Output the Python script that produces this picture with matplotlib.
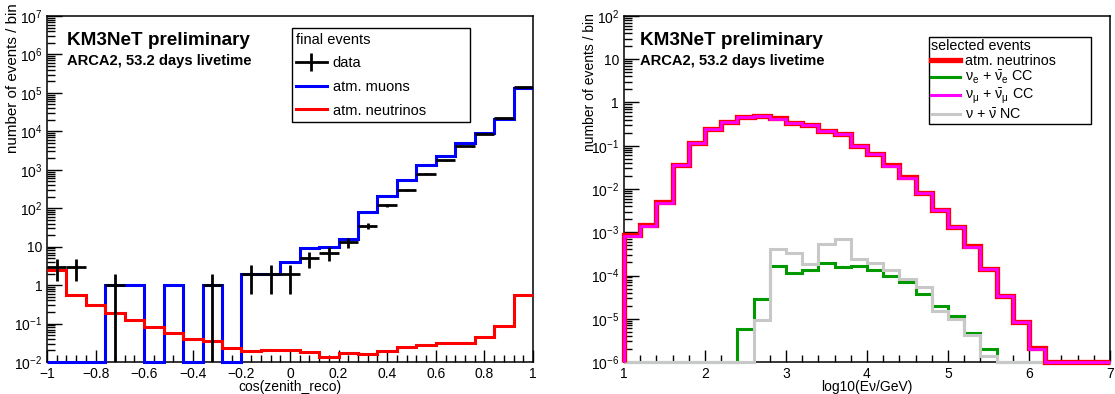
import numpy as np
import matplotlib
matplotlib.use('Agg')
from matplotlib import pyplot as plt
from matplotlib.lines import Line2D
from matplotlib.ticker import FuncFormatter, LogLocator, MultipleLocator, NullFormatter

plt.rcParams['font.family'] = ['Liberation Sans', 'DejaVu Sans']
plt.rcParams['mathtext.fontset'] = 'custom'
plt.rcParams['mathtext.rm'] = 'Liberation Sans'
plt.rcParams['mathtext.it'] = 'Liberation Sans:italic'
plt.rcParams['mathtext.bf'] = 'Liberation Sans:bold'

# zenith distribution, 25 bins in cos(zenith_reco)
cos_edges = np.linspace(-1, 1, 26)
data_counts = [3, 3, 0, 1, 0, 0, 0, 0, 1, 0, 2, 2, 2, 5, 7, 13, 35, 118,
               300, 800, 1780, 4200, 8500, 22000, 146000]
atm_muons = [0, 0, 0, 1, 1, 0, 1, 0, 1, 0, 2, 2, 4, 9, 10, 16, 78, 205,
             540, 1300, 2350, 4900, 8900, 21000, 138000]
atm_neutrinos_cos = [2.5, 0.54, 0.31, 0.19, 0.123, 0.08, 0.058, 0.040, 0.035,
                     0.023, 0.0195, 0.021, 0.020, 0.0177, 0.0133, 0.0174,
                     0.0163, 0.0195, 0.025, 0.028, 0.032, 0.032, 0.046,
                     0.085, 0.57]

# energy distribution, 30 bins in log10(E/GeV)
loge_edges = np.linspace(1, 7, 31)
nu_all = [8.5e-4, 1.45e-3, 4.9e-3, 0.036, 0.115, 0.245, 0.36, 0.46, 0.48,
          0.43, 0.34, 0.30, 0.22, 0.186, 0.10, 0.065, 0.035, 0.0186, 0.0083,
          0.0033, 1.35e-3, 4.7e-4, 1.45e-4, 3.4e-5, 8.5e-6, 2.1e-6,
          0, 0, 0, 0]
numu_cc = [8.4e-4, 1.43e-3, 4.85e-3, 0.0357, 0.114, 0.243, 0.357, 0.456,
           0.476, 0.426, 0.337, 0.297, 0.218, 0.184, 0.099, 0.064, 0.0346,
           0.0184, 0.0082, 0.00326, 1.33e-3, 4.6e-4, 1.42e-4, 3.3e-5,
           8.3e-6, 2.0e-6, 0, 0, 0, 0]
nue_cc = [0, 0, 0, 0, 0, 0, 0, 5.7e-6, 2.9e-5, 1.67e-4, 1.17e-4, 1.33e-4,
          1.92e-4, 1.6e-4, 1.67e-4, 1.33e-4, 9.8e-5, 6.9e-5, 3.8e-5, 2.0e-5,
          1.16e-5, 4.8e-6, 2.0e-6, 0, 0, 0, 0, 0, 0, 0]
nu_nc = [0, 0, 0, 0, 0, 0, 0, 0, 9.4e-6, 4.1e-4, 3.4e-4, 1.8e-4, 5.3e-4,
         6.9e-4, 2.4e-4, 1.9e-4, 1.33e-4, 8.5e-5, 5.5e-5, 1.5e-5, 9.7e-6,
         4.2e-6, 1.4e-6, 0, 0, 0, 0, 0, 0, 0]


def log_label(v, pos):
    if np.isclose(v, 1):
        return '1'
    if np.isclose(v, 10):
        return '10'
    return r'$\mathregular{10^{%d}}$' % round(np.log10(v))


def lin_label(v, pos):
    return ('%g' % (round(v, 6) + 0.0)).replace('-', '\u2212')


def style_axes(ax, ymin, ymax, ylabel_size, ylabel_top):
    ax.set_yscale('log')
    ax.set_ylim(ymin, ymax)
    ax.yaxis.set_major_locator(LogLocator(base=10, numticks=20))
    ax.yaxis.set_minor_locator(LogLocator(base=10, subs=np.arange(2, 10), numticks=20))
    ax.yaxis.set_major_formatter(FuncFormatter(log_label))
    ax.yaxis.set_minor_formatter(NullFormatter())
    ax.xaxis.set_major_formatter(FuncFormatter(lin_label))
    ax.tick_params(which='both', direction='in', top=False, right=False,
                   labelsize=10, width=1, colors='black')
    ax.tick_params(axis='y', which='major', length=11)
    ax.tick_params(axis='y', which='minor', length=6)
    ax.tick_params(axis='x', which='major', length=9)
    ax.tick_params(axis='x', which='minor', length=5)
    for s in ax.spines.values():
        s.set_linewidth(1.1)
    ax.set_ylabel('number of events / bin', fontsize=ylabel_size, loc='top')
    ax.yaxis.set_label_coords(-0.055, ylabel_top)


def draw_hist(ax, edges, values, color, lw, floor, zorder, closed=False):
    vals = np.asarray(values, dtype=float)
    vals = np.where(vals > 0, vals, floor)
    ax.stairs(vals, edges, baseline=floor if closed else None, color=color,
              lw=lw, zorder=zorder, clip_on=False)


def add_labels(ax, x):
    ax.text(x, 0.916, 'KM3NeT preliminary', transform=ax.transAxes,
            fontsize=13.6, fontweight='bold', va='baseline')
    ax.text(x, 0.858, 'ARCA2, 53.2 days livetime', transform=ax.transAxes,
            fontsize=10.6, fontweight='bold', va='baseline')


fig = plt.figure(figsize=(11.15, 3.94), dpi=100)
ax1 = fig.add_axes([0.04215, 0.0812, 0.4359, 0.8782])
ax2 = fig.add_axes([0.5596, 0.0812, 0.4359, 0.8782])

# left: cos(zenith) distribution
style_axes(ax1, 1e-2, 1e7, 10.9, 1.037)
ax1.set_xlim(-1, 1)
ax1.xaxis.set_major_locator(MultipleLocator(0.2))
ax1.xaxis.set_minor_locator(MultipleLocator(0.04))
draw_hist(ax1, cos_edges, atm_muons, 'blue', 2.2, 1e-2, 3)
draw_hist(ax1, cos_edges, atm_neutrinos_cos, 'red', 2.2, 1e-2, 3.1)
counts = np.array(data_counts, dtype=float)
centers = 0.5 * (cos_edges[1:] + cos_edges[:-1])
half = 0.5 * np.diff(cos_edges)
m = counts > 0
ax1.errorbar(centers[m], counts[m], yerr=np.sqrt(counts[m]), xerr=half[m],
             fmt='none', ecolor='black', elinewidth=2, capsize=0, zorder=4)
ax1.set_xlabel('cos(zenith_reco)', fontsize=10, labelpad=-0.5)
add_labels(ax1, 0.041)

h_data = (Line2D([], [], color='black', lw=2),
          Line2D([], [], color='black', marker='|', markersize=13, mew=2, ls='none'))
h_mu = Line2D([], [], color='blue', lw=2.2)
h_nu = Line2D([], [], color='red', lw=2.2)
leg1 = ax1.legend([h_data, h_mu, h_nu], ['data', 'atm. muons', 'atm. neutrinos'],
                  title='final events', loc='upper left',
                  bbox_to_anchor=(0.5035, 0.60, 0.3663, 0.3645), mode='expand',
                  fontsize=10.5, title_fontsize=10.5, alignment='left',
                  fancybox=False, edgecolor='black', framealpha=1,
                  borderpad=0.3, labelspacing=0.66, handlelength=2.1,
                  handletextpad=0.4, borderaxespad=0)
leg1.get_frame().set_linewidth(1.0)

# right: neutrino energy distribution
style_axes(ax2, 1e-6, 1e2, 10, 1.009)
ax2.set_xlim(1, 7)
ax2.xaxis.set_major_locator(MultipleLocator(1))
ax2.xaxis.set_minor_locator(MultipleLocator(0.2))
draw_hist(ax2, loge_edges, nue_cc, '#009900', 2.2, 1e-6, 3)
draw_hist(ax2, loge_edges, nu_nc, '#c8c8c8', 2.2, 1e-6, 3.1)
draw_hist(ax2, loge_edges, nu_all, '#ff0000', 3.8, 1e-6, 3.2, closed=True)
draw_hist(ax2, loge_edges, numu_cc, '#ff00ff', 2.0, 1e-6, 3.3, closed=True)
ax2.set_xlabel('log10(E\u03bd/GeV)', fontsize=10, labelpad=-0.5)
add_labels(ax2, 0.034)

handles = [Line2D([], [], color='#ff0000', lw=3.8),
           Line2D([], [], color='#009900', lw=2.2),
           Line2D([], [], color='#ff00ff', lw=2.2),
           Line2D([], [], color='#c8c8c8', lw=2.2)]
labels = ['atm. neutrinos',
          r'$\mathregular{\nu_e}$ + $\mathregular{\bar{\nu}_e}$ CC',
          r'$\mathregular{\nu_\mu}$ + $\mathregular{\bar{\nu}_\mu}$ CC',
          r'$\mathregular{\nu}$ + $\mathregular{\bar{\nu}}$ NC']
leg2 = ax2.legend(handles, labels, title='selected events', loc='upper left',
                  bbox_to_anchor=(0.6276, 0.60, 0.333, 0.34), mode='expand',
                  fontsize=10.3, title_fontsize=10.3, alignment='left',
                  fancybox=False, edgecolor='black', framealpha=1,
                  borderpad=0.15, labelspacing=0.07, handlelength=2.0,
                  handletextpad=0.4, borderaxespad=0)
leg2.get_frame().set_linewidth(1.0)

fig.savefig('out.png', dpi=100)
